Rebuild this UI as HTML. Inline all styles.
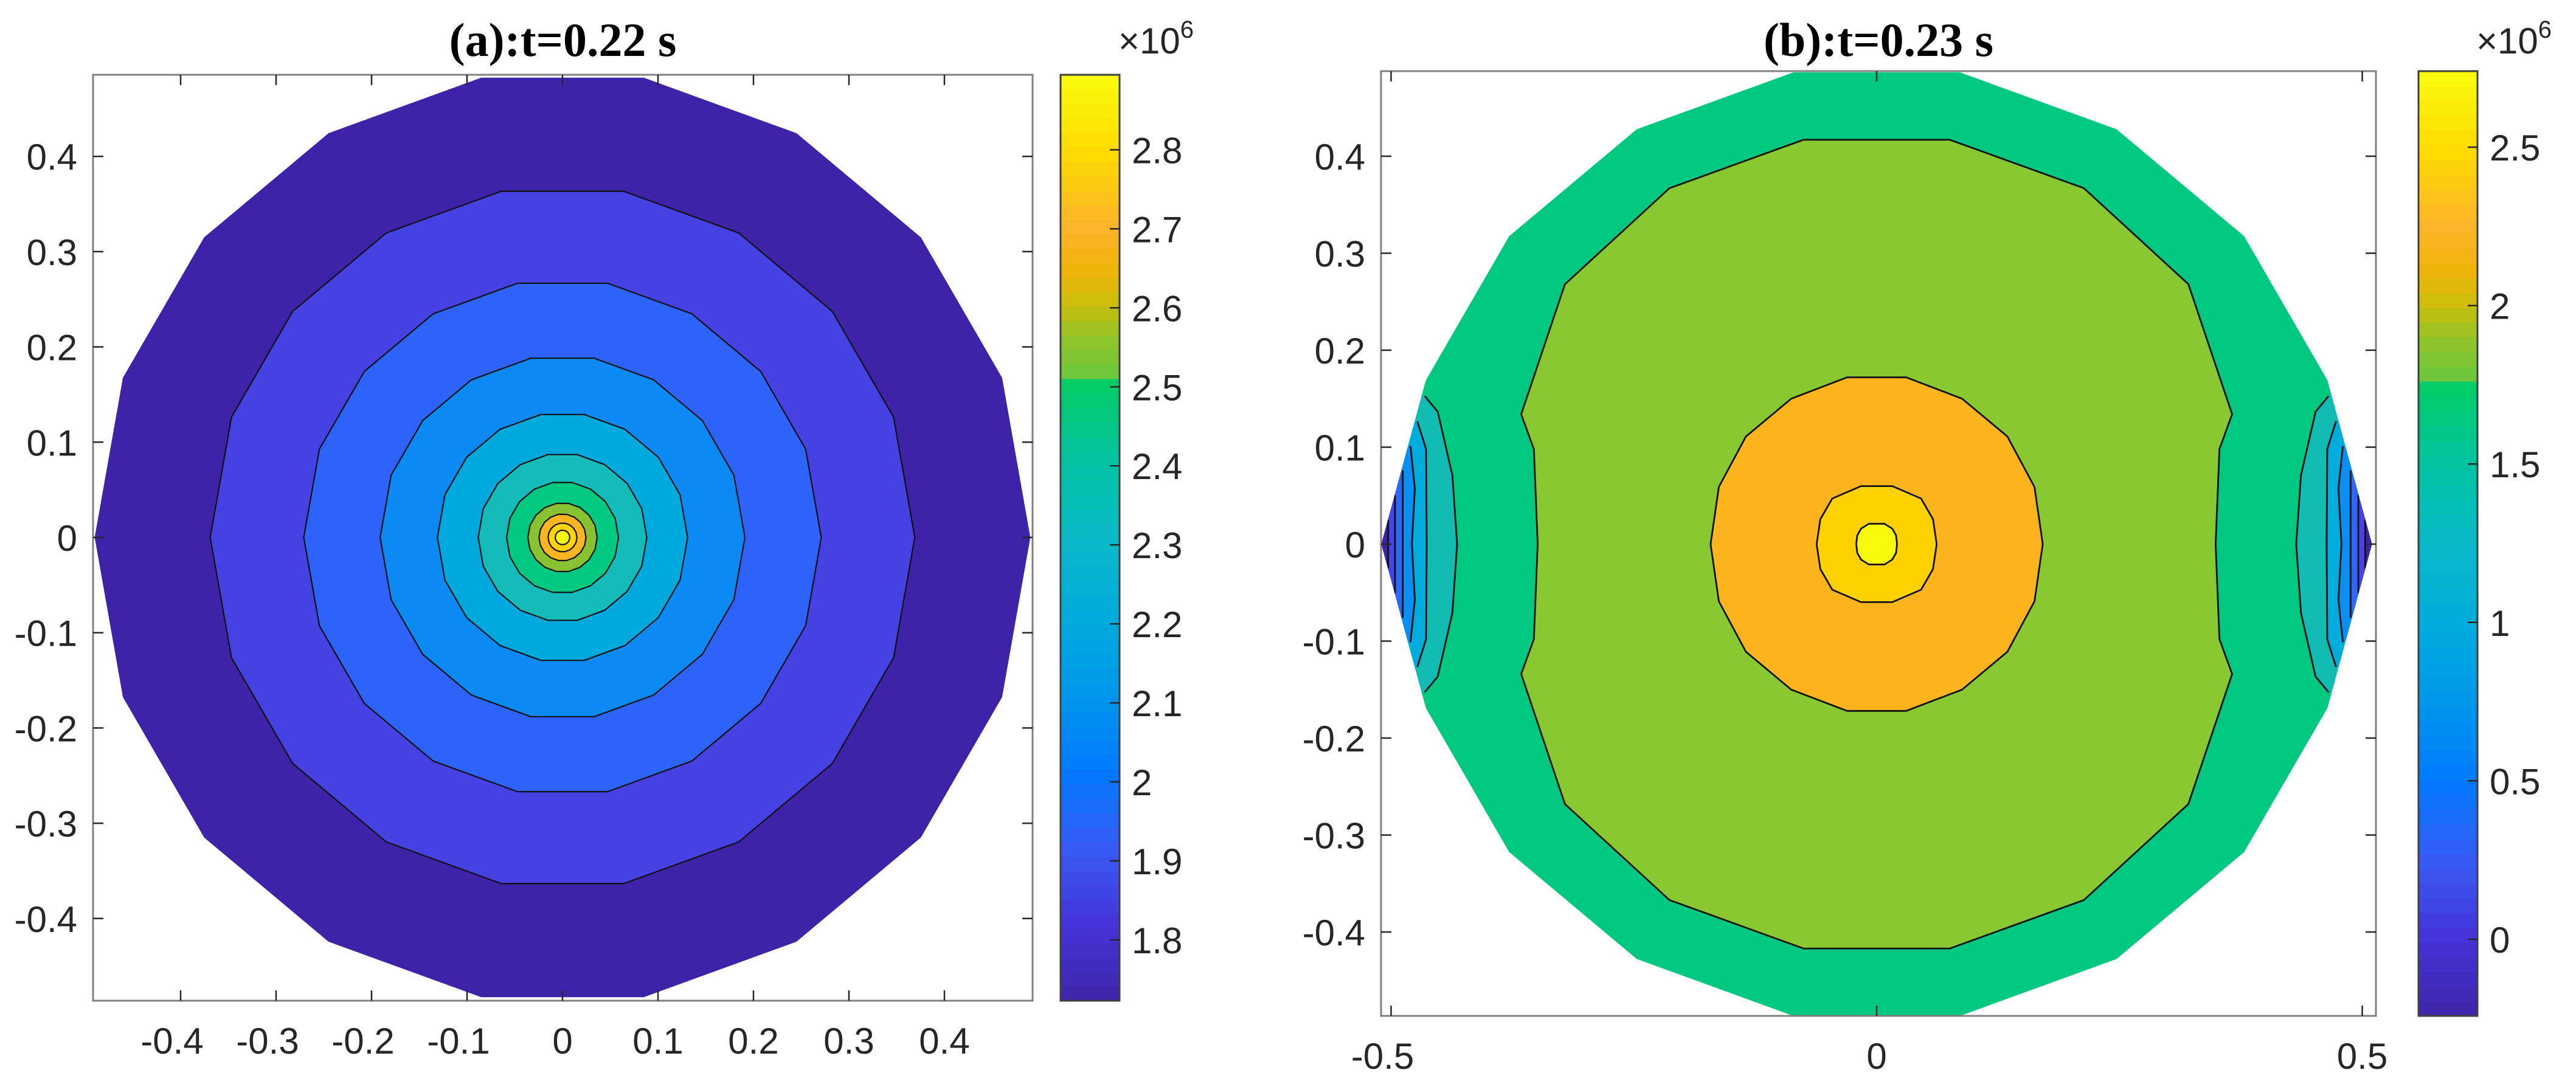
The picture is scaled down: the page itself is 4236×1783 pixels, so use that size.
<!DOCTYPE html>
<html><head><meta charset="utf-8"><style>
html,body{margin:0;padding:0;background:#fff;}
svg{display:block;}
.tk{font-family:"Liberation Sans",Arial,sans-serif;font-size:60px;fill:#262626;}
.ttl{font-family:"Liberation Serif","Times New Roman",serif;font-weight:bold;font-size:78px;fill:#000;}
</style></head><body>
<svg id="fig" xmlns="http://www.w3.org/2000/svg" width="4236" height="1783" viewBox="0 0 4236 1783">
<rect width="4236" height="1783" fill="#fff"/>
</svg>
<script>
// ---------- data ----------
const ticksAX=[-0.4,-0.3,-0.2,-0.1,0,0.1,0.2,0.3,0.4];
const ticksAY=[-0.4,-0.3,-0.2,-0.1,0,0.1,0.2,0.3,0.4];
const ticksBX=[-0.5,0,0.5];
const ticksBY=[-0.4,-0.3,-0.2,-0.1,0,0.1,0.2,0.3,0.4];
const cbTicksA=[1.8,1.9,2,2.1,2.2,2.3,2.4,2.5,2.6,2.7,2.8];
const cbTicksB=[0,0.5,1,1.5,2,2.5];
// panel a: radial contour rings (radius of each level boundary)
const ringRadiiA=[0.49,0.369,0.271,0.191,0.131,0.0883,0.0586,0.0363,0.0246,0.0151,0.0076];
const ringColorsA=["#3e22a8","#4541e3","#2e63f9","#0a8af2","#00a9dd","#14bbb8","#00c880","#88c232","#fbb520","#fed500","#f9fb0e"];
// panel b: outer boundary (radius per 20deg vertex, 0..340)
const outerB=[0.51,0.494,0.494,0.494,0.494,0.494,0.494,0.494,0.494,0.51,0.494,0.494,0.494,0.494,0.494,0.494,0.494,0.494];
// panel b central contours: first-quadrant vertices (top -> x axis)
const cB1X=[0.0754,0.2134,0.321,0.366,0.353,0.349], cB1Y=[0.417,0.367,0.268,0.134,0.098,0];
const cB2X=[0.0305,0.088,0.1346,0.1625,0.171], cB2Y=[0.172,0.150,0.111,0.059,0];
const cB3X=[0.0161,0.0457,0.058,0.0618], cB3Y=[0.0598,0.047,0.0257,0];
const cB4X=[0.008,0.016,0.02,0.021], cB4Y=[0.021,0.016,0.009,0];
const centralColorsB=["#88c830","#fbb41e","#fdd200","#f8fa0e"];
// panel b edge contours (right side upper half, mirrored)
const eB1X=[0.4654,0.452,0.4369,0.432], eB1Y=[0.1527,0.1366,0.071,0];
const eB2X=[0.473,0.464,0.4633], eB2Y=[0.1267,0.0982,0];
const eB3X=[0.480,0.4755,0.4786], eB3Y=[0.1012,0.0573,0];
const eB4X=[0.488,0.488], eB4Y=[0.0759,0];
const eB5X=[0.4959,0.4959], eB5Y=[0.0505,0];
const eB6X=[0.503,0.503], eB6Y=[0.0253,0];
const edgeColorsB=["#12bab4","#00acdc","#0a8ef2","#2f66fa","#4643e6","#3e22a8"];
const baseColorB="#00c880";
// colormap stops (fraction, r,g,b)
const cmapF=[0,0.08,0.164,0.25,0.33,0.416,0.5,0.584,0.664,0.667,0.72,0.75,0.79,0.836,0.92,1];
const cmapR=[62,70,55,0,0,0,10,0,0,100,150,200,240,252,254,249];
const cmapG=[38,50,90,122,150,172,185,195,205,200,195,190,180,180,220,251];
const cmapB=[168,215,245,255,235,220,200,160,105,65,40,10,10,40,0,14];

// ---------- helpers ----------
const NS="http://www.w3.org/2000/svg";
const svg=document.getElementById('fig');
function el(tag,attrs,parent){const e=document.createElementNS(NS,tag);for(const k in attrs)e.setAttribute(k,attrs[k]);(parent||svg).appendChild(e);return e;}
function cmap(f){f=Math.max(0,Math.min(1,f));let i=0;while(i<cmapF.length-2&&f>cmapF[i+1])i++;const t=(f-cmapF[i])/(cmapF[i+1]-cmapF[i]||1);
 const c=[cmapR,cmapG,cmapB].map(a=>Math.round(a[i]+(a[i+1]-a[i])*t));return `rgb(${c[0]},${c[1]},${c[2]})`;}
function fullFromQuarter(xs,ys){const p=[];const n=xs.length;
 for(let i=0;i<n;i++)p.push([xs[i],ys[i]]);
 for(let i=n-1;i>=0;i--)p.push([xs[i],-ys[i]]);
 for(let i=0;i<n;i++)p.push([-xs[i],-ys[i]]);
 for(let i=n-1;i>=0;i--)p.push([-xs[i],ys[i]]);return p;}

function makePanel(P){
 const sx=v=>P.cx+v*P.kx, sy=v=>P.cy-v*P.ky;
 const ptsStr=pts=>pts.map(p=>sx(p[0]).toFixed(1)+','+sy(p[1]).toFixed(1)).join(' ');
 const g=el('g',{});
 
 
 const cid=P.name+'-clip';
 const defs=el('defs',{},g);
 const cp=el('clipPath',{id:cid},defs);
 el('rect',{x:P.x0,y:P.y0,width:P.x1-P.x0,height:P.y1-P.y0},cp);
 const plot=el('g',{'clip-path':`url(#${cid})`},g);
 
 
 P.draw(plot,sx,sy,ptsStr);
 const box=el('rect',{x:P.x0,y:P.y0,width:P.x1-P.x0,height:P.y1-P.y0,fill:'none',stroke:'#808080','stroke-width':3},g);
 
 
 const tl=17;
 P.ticksX.forEach(v=>{const x=sx(v);
  el('line',{x1:x,x2:x,y1:P.y1,y2:P.y1-tl,stroke:'#262626','stroke-width':2.5},g);
  el('line',{x1:x,x2:x,y1:P.y0,y2:P.y0+tl,stroke:'#262626','stroke-width':2.5},g);
  const t=el('text',{x:x-(v<0?14:0),y:P.y1+87,'text-anchor':'middle',class:'tk'},g);t.textContent=String(v);
  
  });
 P.ticksY.forEach(v=>{const y=sy(v);
  el('line',{x1:P.x0,x2:P.x0+tl,y1:y,y2:y,stroke:'#262626','stroke-width':2.5},g);
  el('line',{x1:P.x1,x2:P.x1-tl,y1:y,y2:y,stroke:'#262626','stroke-width':2.5},g);
  const t=el('text',{x:P.x0-26,y:y+22,'text-anchor':'end',class:'tk'},g);t.textContent=String(v);
  
  });
 const tt=el('text',{x:(P.x0+P.x1)/2,y:92,'text-anchor':'middle',class:'ttl'},g);tt.textContent=P.title;
 
 
 const cb=el('g',{},g);
 
 
 const N=64,h=(P.y1-P.y0)/N;
 for(let i=0;i<N;i++){el('rect',{x:P.cbx0,y:P.y1-(i+1)*h,width:P.cbx1-P.cbx0,height:h+0.8,fill:cmap((i+0.5)/N)},cb);}
 el('rect',{x:P.cbx0,y:P.y0,width:P.cbx1-P.cbx0,height:P.y1-P.y0,fill:'none',stroke:'#404040','stroke-width':3},cb);
 const cy=v=>P.y1-(v-P.cmin)/(P.cmax-P.cmin)*(P.y1-P.y0);
 P.cbTicks.forEach(v=>{const y=cy(v);
  el('line',{x1:P.cbx1,x2:P.cbx1-16,y1:y,y2:y,stroke:'#262626','stroke-width':2.5},cb);
  const t=el('text',{x:P.cbx1+20,y:y+22,class:'tk'},cb);t.textContent=String(v);
  
  });
 const ex=el('text',{x:P.cbx1-2,y:88,class:'tk','font-size':'56'},cb);
 
 
 ex.innerHTML='×10<tspan dy="-26" font-size="40">6</tspan>';
}

function ngon(r){const p=[];for(let k=0;k<18;k++){const a=k*20*Math.PI/180;const rr=Array.isArray(r)?r[k]:r;p.push([rr*Math.cos(a),rr*Math.sin(a)]);}return p;}

makePanel({name:'panel-a',title:'(a):t=0.22 s',x0:153,x1:1698,y0:123,y1:1646,cx:925,cy:884,kx:1570,ky:1567,
 ticksX:ticksAX,ticksY:ticksAY,cbx0:1744,cbx1:1841,cmin:1.723,cmax:2.895,cbTicks:cbTicksA,
 draw:(g,sx,sy,ps)=>{ringRadiiA.forEach((r,i)=>{const p=el('polygon',{points:ps(ngon(r)),fill:ringColorsA[i],stroke:i>0?'#111':'none','stroke-width':2.2,'stroke-linejoin':'round'},g);
   
   });}});

makePanel({name:'panel-b',title:'(b):t=0.23 s',x0:2271,x1:3907,y0:117,y1:1671,cx:3086,cy:895,kx:1597,ky:1595,
 ticksX:ticksBX,ticksY:ticksBY,cbx0:3977,cbx1:4074,cmin:-0.242,cmax:2.74,cbTicks:cbTicksB,
 draw:(g,sx,sy,ps)=>{
  const outer=ngon(outerB);
  const defs=el('defs',{},g);const cp=el('clipPath',{id:'outerB'},defs);
  el('polygon',{points:ps(outer)},cp);
  const base=el('polygon',{points:ps(outer),fill:baseColorB},g);
  
  
  const eg=el('g',{'clip-path':'url(#outerB)'},g);
  const edges=[[eB1X,eB1Y],[eB2X,eB2Y],[eB3X,eB3Y],[eB4X,eB4Y],[eB5X,eB5Y],[eB6X,eB6Y]];
  edges.forEach((e,i)=>{[1,-1].forEach(s=>{
    const xs=e[0],ys=e[1],n=xs.length;const line=[];
    for(let j=0;j<n;j++)line.push([s*xs[j],ys[j]]);
    for(let j=n-2;j>=0;j--)line.push([s*xs[j],-ys[j]]);
    const poly=[[s*0.8,ys[0]]].concat(line,[[s*0.8,-ys[0]]]);
    const p=el('polygon',{points:ps(poly),fill:edgeColorsB[i]},eg);
    
    
    el('polyline',{points:ps(line),fill:'none',stroke:'#111','stroke-width':2.8,'stroke-linejoin':'round'},eg);
  });});
  [[cB1X,cB1Y],[cB2X,cB2Y],[cB3X,cB3Y],[cB4X,cB4Y]].forEach((c,i)=>{
    const p=el('polygon',{points:ps(fullFromQuarter(c[0],c[1])),fill:centralColorsB[i],stroke:'#111','stroke-width':2.8,'stroke-linejoin':'round'},g);
    
    });
 }});
</script>
</body></html>
